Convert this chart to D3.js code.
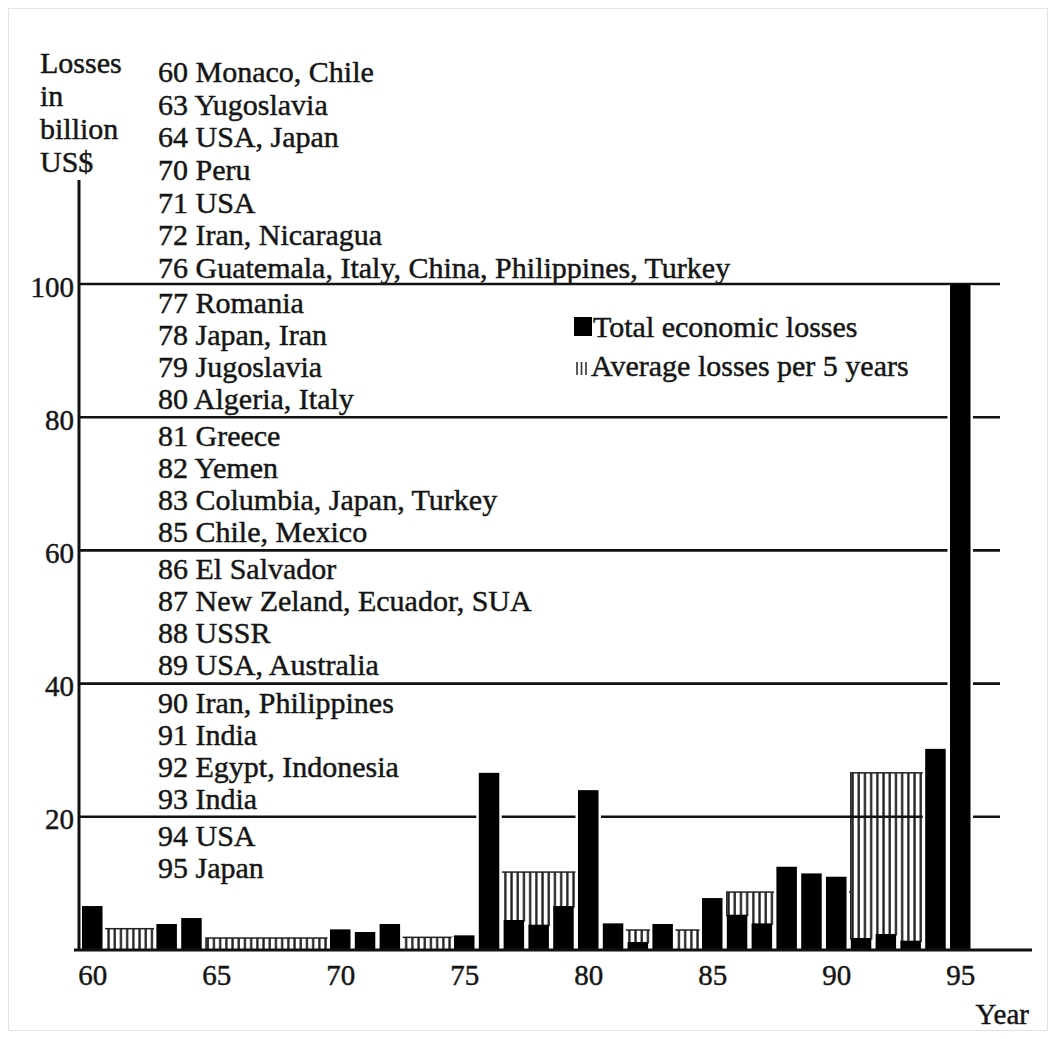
<!DOCTYPE html>
<html>
<head>
<meta charset="utf-8">
<script src="https://cdn.jsdelivr.net/npm/d3@7"></script>
<style>
  html, body { margin: 0; padding: 0; background: #fff; }
  svg { display: block; }
</style>
</head>
<body>
<svg id="chart" width="1056" height="1039"></svg>
<script>
// ---------- data ----------
const years  = [60, 63, 64, 70, 71, 72, 75, 76, 77, 78, 79, 80, 81, 82, 83, 85, 86, 87, 88, 89, 90, 91, 92, 93, 94, 95];
const losses = [6.6, 3.9, 4.8, 3.1, 2.7, 3.9, 2.2, 26.6, 4.5, 3.8, 6.6, 24.0, 4.0, 1.2, 3.9, 7.8, 5.3, 4.0, 12.5, 11.5, 11.0, 1.8, 2.4, 1.4, 30.2, 100];

const avgStart = [60, 65, 70, 76, 81, 86, 91];
const avgEnd   = [64, 70, 75, 80, 85, 91, 95];
const avgValue = [3.2, 1.8, 1.9, 11.7, 3.0, 8.7, 26.6];

const yTicks = [20, 40, 60, 80, 100];
const xTicks = [60, 65, 70, 75, 80, 85, 90, 95];

const yTitle = ["Losses", "in", "billion", "US$"];
const xTitle = "Year";
const legendLabels = ["Total economic losses", "Average losses per 5 years"];

const eventGroups = [
  ["60 Monaco, Chile", "63 Yugoslavia", "64 USA, Japan", "70 Peru", "71 USA", "72 Iran, Nicaragua", "76 Guatemala, Italy, China, Philippines, Turkey"],
  ["77 Romania", "78 Japan, Iran", "79 Jugoslavia", "80 Algeria, Italy"],
  ["81 Greece", "82 Yemen", "83 Columbia, Japan, Turkey", "85 Chile, Mexico"],
  ["86 El Salvador", "87 New Zeland, Ecuador, SUA", "88 USSR", "89 USA, Australia"],
  ["90 Iran, Philippines", "91 India", "92 Egypt, Indonesia", "93 India"],
  ["94 USA", "95 Japan"]
];

// ---------- layout ----------
const FONT = "'Liberation Serif'";
const svg = d3.select("#chart");
const step = 24.8;
const x = d3.scaleLinear().domain([60, 96]).range([82, 82 + 36 * step]);
const y = d3.scaleLinear().domain([0, 100]).range([950, 284]);
const barW = 20.5;
const axisX = 79;
const gridRight = 1000;
const FS = 30;
const INK = "#151515";

function txt(sel) {
  return sel.style("font-family", FONT).attr("fill", INK)
    .attr("stroke", INK).attr("stroke-width", 0.45);
}

svg.append("rect").attr("x", 8.5).attr("y", 8.5).attr("width", 1039).attr("height", 1022)
  .attr("fill", "none").attr("stroke", "#e2e2e2").attr("stroke-width", 1);

const defs = svg.append("defs");
const pat = defs.append("pattern").attr("id", "hatch").attr("patternUnits", "userSpaceOnUse")
  .attr("width", 6.2).attr("height", 10);
pat.append("rect").attr("width", 6.2).attr("height", 10).attr("fill", "#fff");
pat.append("rect").attr("x", 2).attr("width", 2.3).attr("height", 10).attr("fill", "#222");

const avgData = avgStart.map((s, i) => ({ s, e: avgEnd[i], v: avgValue[i] }));
svg.append("g").selectAll("rect").data(avgData).join("rect")
  .attr("x", d => x(d.s))
  .attr("y", d => y(d.v))
  .attr("width", d => x(d.e) - x(d.s))
  .attr("height", d => y(0) - y(d.v))
  .attr("fill", "url(#hatch)")
  .attr("stroke", "#222").attr("stroke-width", 1.5);

svg.append("g").selectAll("line").data(yTicks).join("line")
  .attr("x1", axisX).attr("x2", gridRight)
  .attr("y1", d => y(d)).attr("y2", d => y(d))
  .attr("stroke", "#111").attr("stroke-width", 2.6);

const barData = years.map((yr, i) => ({ yr, v: losses[i] }));
svg.append("g").selectAll("rect").data(barData).join("rect")
  .attr("x", d => x(d.yr) - 2.5)
  .attr("y", d => y(d.v) + 1.5)
  .attr("width", barW + 5)
  .attr("height", d => y(0) - y(d.v) - 1.5)
  .attr("fill", "#fff");
svg.append("g").selectAll("rect").data(barData).join("rect")
  .attr("x", d => x(d.yr))
  .attr("y", d => y(d.v))
  .attr("width", barW)
  .attr("height", d => y(0) - y(d.v))
  .attr("fill", "#000");

svg.append("line").attr("x1", axisX).attr("x2", axisX).attr("y1", 180).attr("y2", 951)
  .attr("stroke", "#111").attr("stroke-width", 3);
svg.append("line").attr("x1", 74).attr("x2", 1032).attr("y1", y(0)).attr("y2", y(0))
  .attr("stroke", "#111").attr("stroke-width", 3);

const yAxis = d3.axisLeft(y).tickValues(yTicks).tickSize(0).tickPadding(0);
const gy = svg.append("g").attr("transform", `translate(${axisX - 5},0)`).call(yAxis);
gy.attr("font-family", null).attr("font-size", null);
gy.select(".domain").remove();
txt(gy.selectAll("text")).attr("font-size", 29).attr("dy", "0.42em");

const xAxis = d3.axisBottom(x).tickValues(xTicks).tickSize(0).tickPadding(0).tickFormat(d3.format("d"));
const gx = svg.append("g").attr("transform", `translate(${barW / 2},${y(0) + 14})`).call(xAxis);
gx.attr("font-family", null).attr("font-size", null);
gx.select(".domain").remove();
txt(gx.selectAll("text")).attr("font-size", 29).attr("dy", "0.72em");

txt(svg.append("g").selectAll("text").data(yTitle).join("text"))
  .attr("x", 40).attr("y", (d, i) => 73 + i * 33)
  .attr("font-size", FS).text(d => d);
txt(svg.append("text")).attr("x", 1029).attr("y", 1024).attr("text-anchor", "end")
  .attr("font-size", 29).text(xTitle);

const listX = 158;
const gridOrder = [100, 80, 60, 40, 20];
eventGroups.forEach((grp, gi) => {
  grp.forEach((t, k) => {
    let yy;
    if (gi === 0) yy = y(100) - 6 - (grp.length - 1 - k) * 32.7;
    else yy = y(gridOrder[gi - 1]) + 29 + k * 32;
    txt(svg.append("text")).attr("x", listX).attr("y", yy)
      .attr("font-size", FS).text(t);
  });
});

const lg = svg.append("g");
lg.append("rect").attr("x", 574).attr("y", 317).attr("width", 18).attr("height", 19).attr("fill", "#000");
txt(lg.append("text")).attr("x", 593).attr("y", 337).attr("font-size", FS).text(legendLabels[0]);
[577, 581.5, 586].forEach(px => {
  lg.append("line").attr("x1", px).attr("x2", px).attr("y1", 362).attr("y2", 375)
    .attr("stroke", "#333").attr("stroke-width", 1.6);
});
txt(lg.append("text")).attr("x", 591).attr("y", 376).attr("font-size", FS).text(legendLabels[1]);
</script>
</body>
</html>
